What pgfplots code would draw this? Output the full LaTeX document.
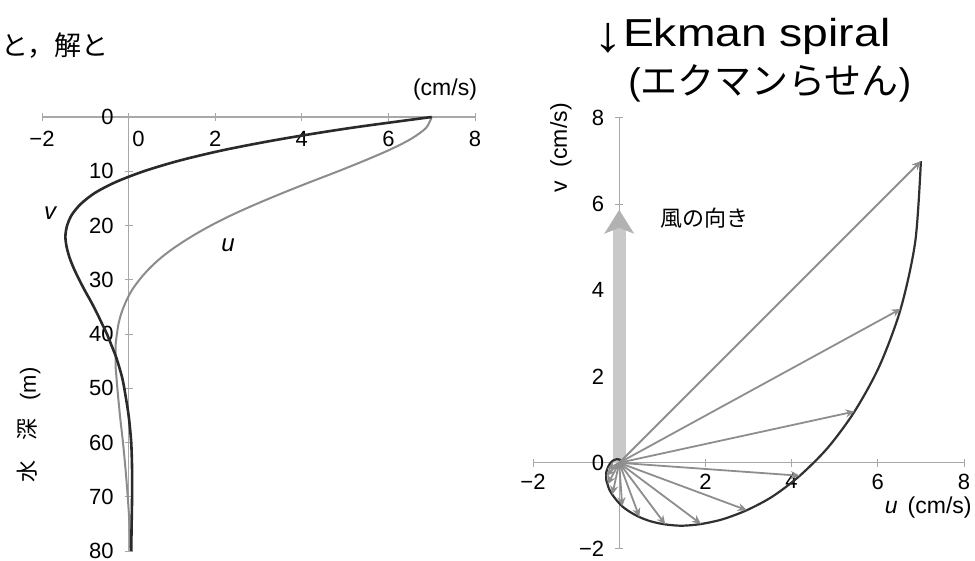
\documentclass[border=0pt]{standalone}
\usepackage{fontspec}
\setmainfont{Liberation Sans}
\newfontfamily\jp{Noto Sans CJK JP}
\usepackage{graphicx}
\usepackage{pgfplots}
\usepackage{pgfplotstable}
\pgfplotsset{compat=1.18}
\usetikzlibrary{arrows.meta}

\definecolor{vline}{HTML}{2A2A2A}
\definecolor{uline}{HTML}{8C8C8C}
\definecolor{axisgray}{HTML}{A8A8A8}
\definecolor{spiral}{HTML}{303030}
\definecolor{vec}{HTML}{8E8E8E}
\definecolor{windshaft}{HTML}{C9C9C9}
\definecolor{windhead}{HTML}{B2B2B2}

% Ekman current: depth z (m), eastward u and northward v (cm/s)
\pgfplotstableread{
z   u      v
0   7.00   7.00
2   6.87   5.14
4   6.53   3.57
6   6.04   2.25
8   5.46   1.19
10  4.84   0.35
12  4.19  -0.30
14  3.56  -0.78
16  2.96  -1.10
18  2.40  -1.31
20  1.90  -1.42
22  1.46  -1.46
24  1.07  -1.43
26  0.74  -1.36
28  0.47  -1.26
30  0.25  -1.14
32  0.07  -1.01
34 -0.06  -0.87
36 -0.16  -0.74
38 -0.23  -0.62
40 -0.27  -0.50
42 -0.30  -0.40
44 -0.30  -0.30
46 -0.30  -0.22
48 -0.28  -0.15
50 -0.26  -0.10
55 -0.20   0.00
60 -0.13   0.06
65 -0.07   0.08
70 -0.02   0.08
75  0.02   0.07
80  0.04   0.06
}\ekman

% current vectors every 4 m, drawn from the origin
\pgfplotstableread{
x y u      v
0 0  7.00   7.00
0 0  6.53   3.57
0 0  5.46   1.19
0 0  4.19  -0.30
0 0  2.96  -1.10
0 0  1.90  -1.42
0 0  1.07  -1.43
0 0  0.47  -1.26
0 0  0.07  -1.01
0 0 -0.16  -0.74
0 0 -0.27  -0.50
0 0 -0.30  -0.30
0 0 -0.28  -0.15
}\vectors

\newcommand\tickfont{\fontsize{11}{13}\selectfont}

\begin{document}
\begin{tikzpicture}
\path[use as bounding box, fill=white] (0,0) rectangle (487.5pt,280.5pt);

% ---- velocity profiles against depth ----
\begin{axis}[
  at={(21pt,5pt)}, anchor=south west,
  scale only axis, width=216.5pt, height=217pt,
  xmin=-2, xmax=8, ymin=0, ymax=80, y dir=reverse,
  enlargelimits=false,
  axis lines=middle,
  axis line style={draw=axisgray, line width=0.6pt, -},
  tick style={draw=axisgray, line width=0.5pt},
  major tick length=4pt, tick align=center,
  xtick={-2,0,2,4,6,8},
  xticklabels={−2,\hspace*{10pt}0,2,4,6,8},
  ytick={0,10,...,80},
  hide obscured x ticks=false, hide obscured y ticks=false,
  /pgf/number format/assume math mode=true,
  ticklabel style={font=\tickfont},
  xticklabel style={anchor=north, yshift=-1.5pt},
  yticklabel style={anchor=east, xshift=-2pt},
  clip=false]
\addplot[smooth, color=uline, line width=1pt] table[x=u, y=z]{\ekman};
\addplot[smooth, color=vline, line width=1.3pt] table[x=v, y=z]{\ekman};
\end{axis}

% ---- hodograph ----
\begin{axis}[
  at={(266.5pt,6pt)}, anchor=south west,
  scale only axis, width=215.5pt, height=215.5pt,
  xmin=-2, xmax=8, ymin=-2, ymax=8,
  enlargelimits=false,
  axis lines=middle,
  axis line style={draw=axisgray, line width=0.6pt, -},
  tick style={draw=axisgray, line width=0.5pt},
  major tick length=4pt, tick align=center,
  xtick={-2,2,4,6,8},
  xticklabels={−2,2,4,6,8},
  ytick={-2,0,2,4,6,8},
  yticklabels={−2,0,2,4,6,8},
  hide obscured x ticks=false, hide obscured y ticks=false,
  ticklabel style={font=\tickfont},
  xticklabel style={anchor=north, yshift=0pt},
  yticklabel style={anchor=east, xshift=-2pt},
  clip=false]
\addplot[line width=6.5pt, color=windshaft,
  -{Stealth[width=15pt, length=12pt, inset=3pt, line width=0pt, color=windhead]}]
  coordinates {(0,0) (0,5.87)};
\addplot[smooth, color=spiral, line width=1.1pt] table[x=u, y=v]{\ekman};
\addplot[color=vec, line width=0.9pt,
  -{Stealth[length=4.5pt, width=4pt]},
  quiver={u=\thisrow{u}, v=\thisrow{v}}]
  table[x=x, y=y]{\vectors};
\end{axis}

% ---- text ----
\node[anchor=base west, inner sep=0pt, font=\jp\fontsize{13.5}{15}\selectfont]
  at (0.5pt,252.5pt) {と，解と};
\node[font=\fontsize{11.5}{13}\selectfont] at (222.5pt,235.5pt) {(cm/s)};
\node[font=\fontsize{12}{14}\selectfont\itshape] at (25pt,174pt) {v};
\node[font=\fontsize{12}{14}\selectfont\itshape] at (114pt,158pt) {u};
\node[rotate=90, font=\fontsize{11}{13}\selectfont] at (14.5pt,68pt)
  {{\jp 水}\hspace{10pt}{\jp 深}\hspace{9pt}(m)};

\node[rotate=90, font=\fontsize{11.5}{13}\selectfont] at (280.5pt,206.5pt)
  {v\hspace{7pt}(cm/s)};
\node[anchor=east, inner sep=0pt, font=\fontsize{11.5}{13}\selectfont] at (486pt,26.5pt)
  {\textit{u}\hspace{5pt}(cm/s)};
\node[font=\jp\fontsize{11}{13}\selectfont] at (352pt,171.5pt) {風の向き};

\node[anchor=base west, inner sep=0pt] at (296.5pt,257pt)
  {\resizebox{148.5pt}{\height}{\fontsize{19.5}{22}\selectfont\raisebox{-0.12em}{\fontsize{25}{25}\selectfont ↓}Ekman spiral}};
\node[anchor=base west, inner sep=0pt, font=\fontsize{18.5}{22}\selectfont] at (314pt,233pt)
  {({\jp エクマンらせん})};
\end{tikzpicture}
\end{document}
